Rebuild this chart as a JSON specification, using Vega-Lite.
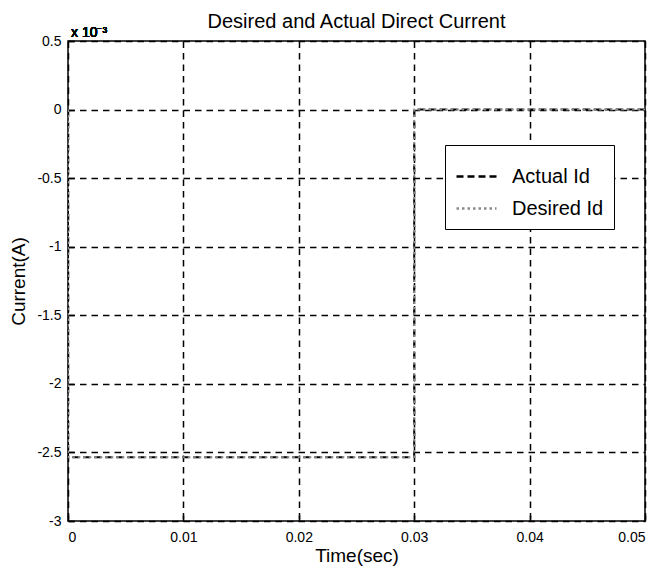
{
  "$schema": "https://vega.github.io/schema/vega-lite/v6.json",
  "width": 577,
  "height": 480,
  "autosize": {"type": "none"},
  "padding": {"left": 68, "top": 41, "right": 14, "bottom": 45},
  "background": "white",
  "title": {
    "text": "Desired and Actual Direct Current",
    "font": "Liberation Sans",
    "fontSize": 20,
    "fontWeight": "normal",
    "color": "black",
    "anchor": "middle",
    "offset": -6
  },
  "config": {
    "font": "Liberation Sans",
    "view": {"stroke": "black", "strokeWidth": 1.5},
    "axis": {
      "domain": false,
      "grid": true,
      "gridColor": "black",
      "gridOpacity": 1,
      "gridDash": [6.5, 5],
      "gridWidth": 1.5,
      "ticks": true,
      "tickColor": "black",
      "tickSize": -6,
      "tickWidth": 1.5,
      "labelFont": "Liberation Sans",
      "labelFontSize": 14,
      "labelColor": "black",
      "titleFont": "Liberation Sans",
      "titleFontSize": 19,
      "titleFontWeight": "normal",
      "titleColor": "black"
    }
  },
  "data": {
    "values": [
      {"t": 0, "v": 0, "series": "Actual Id", "i": 1},
      {"t": 0, "v": -2.535, "series": "Actual Id", "i": 2},
      {"t": 0.03, "v": -2.535, "series": "Actual Id", "i": 3},
      {"t": 0.03, "v": 0, "series": "Actual Id", "i": 4},
      {"t": 0.05, "v": 0, "series": "Actual Id", "i": 5},
      {"t": 0, "v": 0, "series": "Desired Id", "i": 1},
      {"t": 0, "v": -2.535, "series": "Desired Id", "i": 2},
      {"t": 0.03, "v": -2.535, "series": "Desired Id", "i": 3},
      {"t": 0.03, "v": 0, "series": "Desired Id", "i": 4},
      {"t": 0.05, "v": 0, "series": "Desired Id", "i": 5}
    ]
  },
  "layer": [
    {
      "mark": {"type": "line", "strokeWidth": 2, "clip": true},
      "encoding": {
        "x": {
          "field": "t",
          "type": "quantitative",
          "scale": {"domain": [0, 0.05], "nice": false, "zero": false},
          "axis": {
            "title": "Time(sec)",
            "values": [0, 0.01, 0.02, 0.03, 0.04, 0.05],
            "labelExpr": "toString(datum.value)",
            "labelPadding": 15,
            "titlePadding": 2
          }
        },
        "y": {
          "field": "v",
          "type": "quantitative",
          "scale": {"domain": [-3, 0.5], "nice": false, "zero": false},
          "axis": {
            "title": "Current(A)",
            "values": [0.5, 0, -0.5, -1, -1.5, -2, -2.5, -3],
            "labelExpr": "toString(datum.value)",
            "labelPadding": 13,
            "titlePadding": 8
          }
        },
        "order": {"field": "i", "type": "quantitative"},
        "color": {
          "field": "series",
          "type": "nominal",
          "scale": {"domain": ["Actual Id", "Desired Id"], "range": ["black", "#8a8a8a"]},
          "legend": {
            "title": null,
            "orient": "none",
            "legendX": 377,
            "legendY": 104,
            "strokeColor": "black",
            "fillColor": "white",
            "padding": 10,
            "symbolType": "stroke",
            "symbolSize": 1600,
            "symbolStrokeWidth": 2.5,
            "labelFont": "Liberation Sans",
            "labelFontSize": 20,
            "labelColor": "black",
            "rowPadding": -6,
            "labelOffset": 14,
            "labelLimit": 300
          }
        },
        "strokeDash": {
          "field": "series",
          "type": "nominal",
          "scale": {"domain": ["Actual Id", "Desired Id"], "range": [[7, 4], [2.5, 3]]},
          "legend": {
            "title": null,
            "orient": "none",
            "legendX": 377,
            "legendY": 104,
            "strokeColor": "black",
            "fillColor": "white",
            "padding": 10,
            "symbolType": "stroke",
            "symbolSize": 1600,
            "symbolStrokeWidth": 2.5,
            "labelFont": "Liberation Sans",
            "labelFontSize": 20,
            "labelColor": "black",
            "rowPadding": -6,
            "labelOffset": 14,
            "labelLimit": 300
          }
        }
      }
    },
    {
      "mark": {"type": "text", "text": "x 10⁻³", "align": "left", "baseline": "bottom", "dx": 3, "dy": -1, "fontSize": 14, "font": "Liberation Sans", "color": "black"},
      "encoding": {
        "x": {"datum": 0, "type": "quantitative"},
        "y": {"datum": 0.5, "type": "quantitative"}
      }
    }
  ]
}
